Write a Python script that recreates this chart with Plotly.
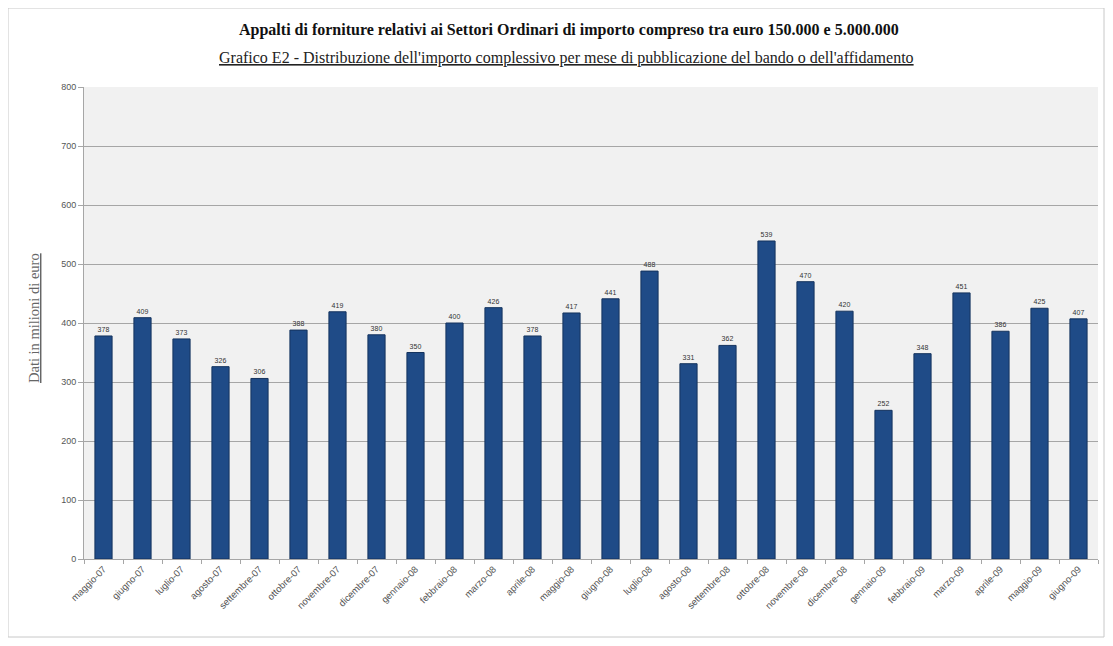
import plotly.graph_objects as go

months = ["maggio-07", "giugno-07", "luglio-07", "agosto-07", "settembre-07", "ottobre-07",
          "novembre-07", "dicembre-07", "gennaio-08", "febbraio-08", "marzo-08", "aprile-08",
          "maggio-08", "giugno-08", "luglio-08", "agosto-08", "settembre-08", "ottobre-08",
          "novembre-08", "dicembre-08", "gennaio-09", "febbraio-09", "marzo-09", "aprile-09",
          "maggio-09", "giugno-09"]
values = [378, 409, 373, 326, 306, 388, 419, 380, 350, 400, 426, 378, 417, 441, 488,
          331, 362, 539, 470, 420, 252, 348, 451, 386, 425, 407]
y_ticks = [0, 100, 200, 300, 400, 500, 600, 700, 800]

title = "Appalti di forniture relativi ai Settori Ordinari di importo compreso tra euro 150.000 e 5.000.000"
subtitle = "Grafico E2 - Distribuzione dell'importo complessivo per mese di pubblicazione del bando o dell'affidamento"
y_title = "Dati in milioni di euro"

fig = go.Figure()
fig.add_trace(go.Bar(
    x=months, y=values,
    marker=dict(color="#1F4B87", line=dict(color="#14335e", width=1)),
    text=[str(v) for v in values], textposition="outside",
    textfont=dict(family="Arial", size=7, color="#333333"),
    cliponaxis=False,
))

# page is offset by the browser's default 8px body margin
OFF = 8
W, H = 1097, 630
L, T = 84 - OFF, 87 - OFF
R = W - (1098 - OFF)
B = H - (559 - OFF)
pw, ph = W - L - R, H - T - B

def px_x(p):
    return (p - OFF - L) / pw

def px_y(p):
    return (H - B - (p - OFF)) / ph

fig.update_layout(
    width=W, height=H,
    margin=dict(l=L, r=R, t=T, b=B, autoexpand=False),
    paper_bgcolor="white",
    plot_bgcolor="#F1F1F1",
    showlegend=False,
    bargap=0.56,
    xaxis=dict(
        tickangle=-45, tickfont=dict(family="Arial", size=9.5, color="#555555"),
        showline=True, linecolor="#A6A6A6", showgrid=False,
        ticks="outside", tickson="boundaries", ticklen=4, tickcolor="#A6A6A6",
    ),
    yaxis=dict(
        range=[0, 800], tickvals=y_ticks,
        tickfont=dict(family="Arial", size=9, color="#555555"),
        showgrid=True, gridcolor="#A6A6A6", gridwidth=1,
        showline=True, linecolor="#A6A6A6", ticks="outside", tickcolor="#A6A6A6", ticklen=5,
        zeroline=False,
    ),
    annotations=[
        dict(text="<b>" + title + "</b>", xref="paper", yref="paper",
             x=px_x(569), y=px_y(30), xanchor="center", yanchor="middle", showarrow=False,
             font=dict(family="Liberation Serif", size=16, color="#111111")),
        dict(text="<u>" + subtitle + "</u>", xref="paper", yref="paper",
             x=px_x(566), y=px_y(58), xanchor="center", yanchor="middle", showarrow=False,
             font=dict(family="Liberation Serif", size=16, color="#222222")),
        dict(text="<u>" + y_title + "</u>", xref="paper", yref="paper",
             x=px_x(34), y=px_y(318), xanchor="center", yanchor="middle", showarrow=False,
             textangle=-90,
             font=dict(family="Liberation Serif", size=14.5, color="#666666")),
    ],
    shapes=[
        dict(type="rect", xref="paper", yref="paper",
             x0=px_x(8), x1=px_x(1104), y0=px_y(637), y1=px_y(8),
             line=dict(color="#C8C8C8", width=1), layer="below"),
    ],
)

fig.write_html("out.html")
